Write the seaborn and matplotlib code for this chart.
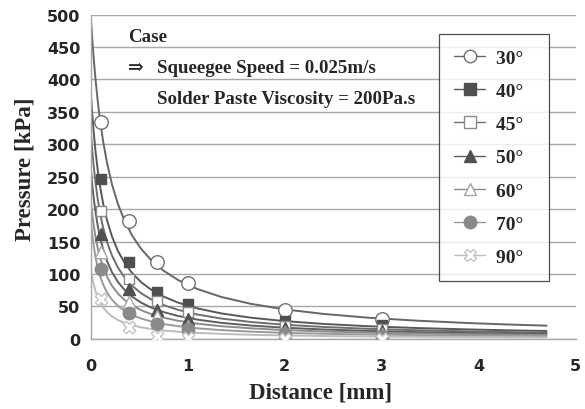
import matplotlib
matplotlib.use("Agg")
import matplotlib.pyplot as plt
import seaborn as sns
import pandas as pd
from matplotlib.lines import Line2D

# ---------------- data ----------------
angles = ["30°", "40°", "45°", "50°", "60°", "70°", "90°"]

# simulated points
x_points = [0.11, 0.39, 0.68, 1.0, 2.0, 3.0]
p30 = [335, 182, 119, 86, 45, 30]
p40 = [246, 118, 72, 54, 27, 21]
p45 = [197, 92, 59, 41, 20, 16]
p50 = [161, 77, 44, 30, 17, 12]
p60 = [134, 57, 35, 20, 10, 8]
p70 = [108, 40, 23, 15, 8, 5]
p90 = [61, 19, 4, 2, 0, 0]

# model curves
curve_x = [0.005, 0.015, 0.03, 0.05, 0.075, 0.1, 0.13, 0.17, 0.22, 0.28, 0.35, 0.43, 0.52,
           0.62, 0.75, 0.9, 1.1, 1.35, 1.65, 2.0, 2.4, 2.85, 3.35, 3.9, 4.3, 4.7]
c30 = [487.8, 465.1, 434.8, 400.0, 363.6, 333.3, 303.0, 270.3, 238.1, 208.3, 181.8, 158.7, 138.9,
       122.0, 105.3, 90.9, 76.9, 64.5, 54.1, 45.5, 38.5, 32.8, 28.2, 24.4, 22.2, 20.4]
c40 = [371.1, 349.1, 320.7, 289.2, 257.6, 232.3, 207.7, 182.1, 157.8, 135.9, 117.1, 101.0, 87.5,
       76.2, 65.3, 56.0, 47.0, 39.2, 32.7, 27.4, 23.1, 19.6, 16.8, 14.6, 13.2, 12.2]
c45 = [313.0, 293.4, 268.2, 240.6, 213.2, 191.4, 170.5, 148.8, 128.4, 110.2, 94.6, 81.5, 70.4,
       61.2, 52.3, 44.8, 37.6, 31.3, 26.1, 21.8, 18.4, 15.6, 13.4, 11.6, 10.5, 9.7]
c50 = [256.8, 240.1, 218.7, 195.4, 172.5, 154.4, 137.2, 119.4, 102.7, 88.0, 75.4, 64.8, 55.9,
       48.5, 41.4, 35.4, 29.7, 24.7, 20.6, 17.2, 14.5, 12.3, 10.5, 9.1, 8.3, 7.6]
c60 = [207.9, 194.0, 176.3, 157.2, 138.4, 123.7, 109.6, 95.2, 81.8, 70.0, 59.9, 51.4, 44.3,
       38.4, 32.8, 28.0, 23.5, 19.5, 16.3, 13.6, 11.4, 9.7, 8.3, 7.2, 6.5, 6.0]
c70 = [177.0, 162.4, 144.5, 126.0, 108.6, 95.4, 83.3, 71.3, 60.3, 51.0, 43.1, 36.7, 31.4,
       27.1, 23.0, 19.6, 16.3, 13.5, 11.2, 9.3, 7.9, 6.7, 5.7, 4.9, 4.5, 4.1]
c90 = [104.9, 95.9, 84.9, 73.6, 63.1, 55.3, 48.1, 41.0, 34.6, 29.1, 24.6, 20.9, 17.9,
       15.4, 13.0, 11.1, 9.2, 7.7, 6.3, 5.3, 4.4, 3.8, 3.2, 2.8, 2.5, 2.3]

x_ticks = [0, 1, 2, 3, 4, 5]
y_ticks = [0, 50, 100, 150, 200, 250, 300, 350, 400, 450, 500]

points = [p30, p40, p45, p50, p60, p70, p90]
curves = [c30, c40, c45, c50, c60, c70, c90]

# ---------------- styles ----------------
line_colors = ["#666666", "#585858", "#6e6e6e", "#5e5e5e", "#8c8c8c", "#9a9a9a", "#bcbcbc"]
markers = ["o", "s", "s", "^", "^", "o", "X"]
face_colors = ["white", "#4f4f4f", "white", "#505050", "white", "#8a8a8a", "white"]
edge_colors = ["#707070", "#4f4f4f", "#8a8a8a", "#505050", "#a5a5a5", "#8a8a8a", "#c4c4c4"]
msizes = [95, 60, 60, 75, 80, 80, 80]

curve_df = pd.DataFrame(
    [(a, x, y) for a, cv in zip(angles, curves) for x, y in zip(curve_x, cv)],
    columns=["angle", "Distance", "Pressure"],
)
point_df = pd.DataFrame(
    [(a, x, y) for a, pv in zip(angles, points) for x, y in zip(x_points, pv)],
    columns=["angle", "Distance", "Pressure"],
)

sns.set_style("white")
serif = ["Liberation Serif", "DejaVu Serif"]
sans = ["DejaVu Sans"]

fig = plt.figure(figsize=(5.85, 4.1), dpi=100)
ax = fig.add_axes([0.155, 0.171, 0.829, 0.791])

sns.lineplot(data=curve_df, x="Distance", y="Pressure", hue="angle",
             palette=dict(zip(angles, line_colors)), estimator=None,
             legend=False, linewidth=1.4, ax=ax, zorder=2)

for i, a in enumerate(angles):
    sub = point_df[point_df["angle"] == a]
    sns.scatterplot(data=sub, x="Distance", y="Pressure", marker=markers[i],
                    s=msizes[i], facecolor=face_colors[i], edgecolor=edge_colors[i],
                    linewidth=1.0, ax=ax, zorder=3, legend=False)

ax.set_xlim(0, 5)
ax.set_ylim(0, 500)
ax.set_xticks(x_ticks)
ax.set_yticks(y_ticks)
ax.yaxis.grid(True, color="#a8a8a8", linewidth=1.0)
ax.xaxis.grid(False)
ax.set_axisbelow(True)
for s in ["top", "right"]:
    ax.spines[s].set_visible(False)
for s in ["left", "bottom"]:
    ax.spines[s].set_color("#a8a8a8")
    ax.spines[s].set_linewidth(1.0)
ax.tick_params(axis="both", which="major", direction="out", length=4.5,
               color="#a8a8a8", width=1.0, labelsize=11.5)
ax.tick_params(axis="x", pad=9)
ax.tick_params(axis="y", pad=3)
for lab in ax.get_xticklabels() + ax.get_yticklabels():
    lab.set_fontweight("bold")
    lab.set_family(sans)

ax.set_xlabel("")
ax.set_ylabel("")
ax.text(0.473, -0.163, "Distance [mm]", transform=ax.transAxes, fontsize=16.5,
        fontweight="bold", family=serif, ha="center", va="center")
ax.text(-0.135, 0.527, "Pressure [kPa]", transform=ax.transAxes, fontsize=16.5,
        fontweight="bold", family=serif, ha="center", va="center", rotation=90)

ax.text(0.077, 0.933, "Case", transform=ax.transAxes, fontsize=13.6,
        fontweight="bold", family=serif, va="center")
ax.text(0.077, 0.838, "⇒", transform=ax.transAxes, fontsize=13.6,
        fontweight="bold", family=serif, va="center")
ax.text(0.137, 0.838, "Squeegee Speed = 0.025m/s", transform=ax.transAxes,
        fontsize=13.6, fontweight="bold", family=serif, va="center")
ax.text(0.137, 0.742, "Solder Paste Viscosity = 200Pa.s", transform=ax.transAxes,
        fontsize=13.6, fontweight="bold", family=serif, va="center")

handles = []
for i, a in enumerate(angles):
    handles.append(Line2D([0], [0], color=line_colors[i], linewidth=1.0,
                          marker=markers[i], markersize=9 if markers[i] in "o^X" else 8,
                          markerfacecolor=face_colors[i], markeredgecolor=edge_colors[i],
                          label=a + "  "))
leg = ax.legend(handles=handles, loc="upper left", bbox_to_anchor=(0.718, 0.941),
                frameon=True, fancybox=False, handlelength=1.55, handletextpad=0.6,
                labelspacing=0.8, borderpad=0.8, borderaxespad=0,
                prop={"family": serif, "weight": "bold", "size": 14})
leg.get_frame().set_edgecolor("#222222")
leg.get_frame().set_linewidth(0.9)
leg.set_zorder(5)

fig.savefig("out.png", dpi=100)
